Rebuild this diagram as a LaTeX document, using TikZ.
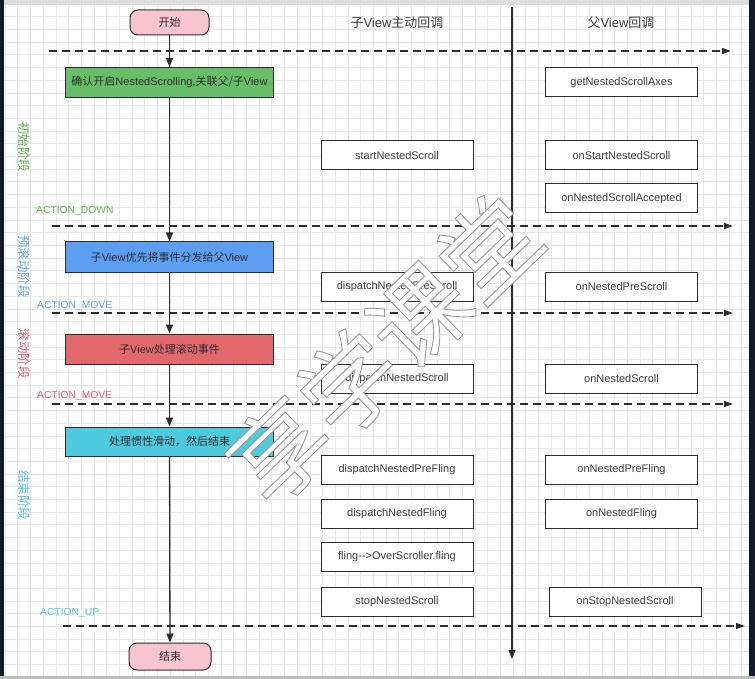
\documentclass[tikz,border=0pt]{standalone}
\usepackage{fontspec}
\setmainfont{Liberation Sans}
\newfontfamily\cjk{Noto Sans CJK SC}
\usetikzlibrary{arrows.meta}
\definecolor{gridc}{RGB}{232,232,232}
\definecolor{linec}{RGB}{45,45,45}
\definecolor{txtc}{RGB}{60,60,60}
\definecolor{pinkf}{RGB}{248,196,205}
\definecolor{greenf}{RGB}{104,190,104}
\definecolor{bluef}{RGB}{92,158,242}
\definecolor{redf}{RGB}{226,104,108}
\definecolor{cyanf}{RGB}{78,202,222}
\definecolor{grnt}{RGB}{96,178,80}
\definecolor{blut}{RGB}{100,160,235}
\definecolor{redt}{RGB}{222,96,110}
\definecolor{cyant}{RGB}{82,200,220}
\definecolor{framel}{RGB}{18,26,40}
\definecolor{frametop}{RGB}{222,222,222}
\newcommand{\wmtext}[1]{\textcolor{white}{\special{pdf:code 2 Tr 0.9 w 0.6 G}#1\special{pdf:code 0 Tr}}}
\begin{document}
\begin{tikzpicture}[x=1pt,y=-1pt,
  fbox/.style={draw=linec, line width=1pt, fill=white, minimum width=152pt,
    minimum height=29pt, inner sep=0pt, text=txtc, font=\fontsize{11}{13}\selectfont},
  stagebox/.style={draw=linec, line width=1pt, minimum width=208pt,
    minimum height=30pt, inner sep=0pt, text=linec, font=\fontsize{11}{13}\selectfont},
  termbox/.style={draw=linec, line width=1pt, fill=pinkf, rounded corners=8pt,
    minimum width=79pt, minimum height=25pt, inner sep=0pt, text=linec,
    font=\fontsize{11}{13}\selectfont},
  hdr/.style={text=txtc, font=\fontsize{13}{15}\selectfont, inner sep=0pt},
  vlab/.style={rotate=-90, inner sep=0pt, font=\fontsize{12.5}{14}\selectfont\cjk},
  alab/.style={anchor=west, inner sep=0pt, font=\fontsize{10.3}{12}\selectfont},
  dashline/.style={draw=linec, line width=1.4pt, dash pattern=on 8pt off 5pt,
    -{Triangle[length=9pt,width=6pt]}},
  flow/.style={draw=linec, line width=1.3pt, -{Triangle[length=9pt,width=7pt]}}
]
\useasboundingbox (0,0) rectangle (755,679);
\fill[white] (0,0) rectangle (755,679);
% grid
\foreach \i in {0,...,59} \draw[gridc, line width=0.6pt] ({5+12.7*\i},0) -- ({5+12.7*\i},679);
\foreach \j in {0,...,53} \draw[gridc, line width=0.6pt] (0,{4+12.7*\j}) -- (755,{4+12.7*\j});
% frame
\fill[frametop] (0,0) rectangle (755,5);
\fill[framel] (0,0) rectangle (4,679);
\fill[framel] (749,0) rectangle (755,679);
\fill[frametop!85!black] (0,676) rectangle (755,679);

% headers
\node[hdr] (h1) at (397,23) {{\cjk 子}View{\cjk 主动回调}};
\node[hdr] (h2) at (621,23) {{\cjk 父}View{\cjk 回调}};

% vertical divider
\coordinate (vt) at (512,7);
\coordinate (vb) at (512,659);
\draw[linec, line width=1.3pt, -{Triangle[length=9pt,width=7pt]}] (vt) -- (vb);

% dashed separators
\coordinate (d1s) at (49,51);  \coordinate (d1e) at (731,51);
\coordinate (d2s) at (52,226); \coordinate (d2e) at (733,226);
\coordinate (d3s) at (52,313); \coordinate (d3e) at (733,313);
\coordinate (d4s) at (52,404); \coordinate (d4e) at (733,404);
\coordinate (d5s) at (63,626); \coordinate (d5e) at (745,626);
\draw[dashline] (d1s) -- (d1e);
\draw[dashline] (d2s) -- (d2e);
\draw[dashline] (d3s) -- (d3e);
\draw[dashline] (d4s) -- (d4e);
\draw[dashline] (d5s) -- (d5e);

% stage labels
\node[vlab, text=grnt] (v1) at (24,147.5) {初始阶段};
\node[vlab, text=blut] (v2) at (24,266.5) {预滚动阶段};
\node[vlab, text=redt] (v3) at (24,353.5) {滚动阶段};
\node[vlab, text=cyant] (v4) at (24,495) {结束阶段};
\node[alab, text=grnt] (a1) at (36,211) {ACTION\char95 DOWN};
\node[alab, text=blut] (a2) at (37,306) {ACTION\char95 MOVE};
\node[alab, text=redt] (a3) at (37,396) {ACTION\char95 MOVE};
\node[alab, text=cyant] (a4) at (40,613) {ACTION\char95 UP};

% main flow
\node[termbox] (start) at (169.5,22.5) {\cjk 开始};
\node[stagebox, fill=greenf] (s1) at (169.5,82.5) {{\cjk 确认开启}NestedScrolling,{\cjk 关联父/子}View};
\node[stagebox, fill=bluef] (s2) at (169.5,257) {{\cjk 子}View{\cjk 优先将事件分发给父}View};
\node[stagebox, fill=redf] (s3) at (169.5,349) {{\cjk 子}View{\cjk 处理滚动事件}};
\node[stagebox, fill=cyanf, minimum height=29pt] (s4) at (169.5,441.5) {\cjk 处理惯性滑动，然后结束};
\node[termbox, minimum width=82pt, minimum height=27pt] (end) at (170,656.5) {\cjk 结束};
\draw[flow] (start) -- (s1);
\draw[flow] (s1) -- (s2);
\draw[flow] (s2) -- (s3);
\draw[flow] (s3) -- (s4);
\draw[flow] (s4) -- (end);

% child callbacks
\node[fbox] (c1) at (397,155.5) {startNestedScroll};
\node[fbox] (c2) at (397,287) {dispatchNestedPreScroll};
\node[fbox] (c3) at (397,378.5) {dispatchNestedScroll};
\node[fbox] (c4) at (397,470) {dispatchNestedPreFling};
\node[fbox] (c5) at (397,513.5) {dispatchNestedFling};
\node[fbox] (c6) at (397,556.5) {fling-{}-{}>OverScroller.fling};
\node[fbox] (c7) at (397,601.5) {stopNestedScroll};

% parent callbacks
\node[fbox] (p0) at (621.5,82.5) {getNestedScrollAxes};
\node[fbox] (p1) at (621.5,155.5) {onStartNestedScroll};
\node[fbox] (p2) at (621.5,198.5) {onNestedScrollAccepted};
\node[fbox] (p3) at (621.5,287) {onNestedPreScroll};
\node[fbox] (p4) at (621.5,378.5) {onNestedScroll};
\node[fbox] (p5) at (621.5,470) {onNestedPreFling};
\node[fbox] (p6) at (621.5,513.5) {onNestedFling};
\node[fbox] (p7) at (625,601.5) {onStopNestedScroll};

% watermark (outlined, on top)
\node[rotate=44, inner sep=0pt, font=\fontsize{97}{100}\selectfont\cjk] (wm) at (384,349)
  {\wmtext{享学课堂}};
\end{tikzpicture}
\end{document}
